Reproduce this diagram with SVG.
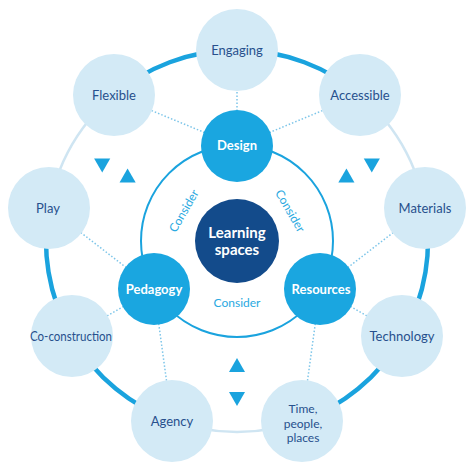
<svg xmlns="http://www.w3.org/2000/svg" xmlns:xlink="http://www.w3.org/1999/xlink" width="474" height="474" viewBox="0 0 474 474">
<style>
.outer{fill:#d3eaf6}
.mid{fill:#1aa6e0}
.core{fill:#134b8b}
.ol{font-family:Lato,"Open Sans","Liberation Sans",sans-serif;font-size:13px;fill:#27508d;text-anchor:middle}
.ts{font-size:12px}
.bl{font-family:Lato,"Open Sans","Liberation Sans",sans-serif;font-size:13px;font-weight:700;fill:#ffffff;text-anchor:middle}
.cl{font-family:Lato,"Open Sans","Liberation Sans",sans-serif;font-size:15px;font-weight:700;fill:#ffffff;text-anchor:middle}
.cs{font-family:Lato,"Open Sans","Liberation Sans",sans-serif;font-size:12px;fill:#2aa9e1;text-anchor:middle}
.dot{stroke:#7cc5e9;stroke-width:1.5;stroke-dasharray:1.5 2;fill:none}
.tri{fill:#1aa3de}
</style>
<defs>
<g id="tris">
<polygon class="tri" points="237,358 245,372 229,372"/>
<polygon class="tri" points="229,392 245,392 237,406"/>
</g>
</defs>
<g id="connectors">
<circle cx="237" cy="241" r="191" fill="none" stroke="#cfe5f2" stroke-width="2.5"/>
<path d="M114.2,94.7 A191,191 0 0 1 359.8,94.7" fill="none" stroke="#1aa3de" stroke-width="4.5"/>
<path d="M425.1,207.8 A191,191 0 0 1 302.3,420.5" fill="none" stroke="#1aa3de" stroke-width="4.5"/>
<path d="M171.7,420.5 A191,191 0 0 1 48.9,207.8" fill="none" stroke="#1aa3de" stroke-width="4.5"/>
<circle cx="237" cy="241" r="96" fill="none" stroke="#1aa3de" stroke-width="2"/>
<line class="dot" x1="237" y1="146" x2="237" y2="50"/>
<line class="dot" x1="237" y1="146" x2="114" y2="95"/>
<line class="dot" x1="237" y1="146" x2="360" y2="95"/>
<line class="dot" x1="154" y1="289" x2="49" y2="208"/>
<line class="dot" x1="154" y1="289" x2="72" y2="336"/>
<line class="dot" x1="154" y1="289" x2="172" y2="421"/>
<line class="dot" x1="320" y1="289" x2="425" y2="208"/>
<line class="dot" x1="320" y1="289" x2="402" y2="336"/>
<line class="dot" x1="320" y1="289" x2="302" y2="421"/>
<use xlink:href="#tris"/>
<use xlink:href="#tris" transform="rotate(120 237 241)"/>
<use xlink:href="#tris" transform="rotate(240 237 241)"/>
</g>
<g id="engaging"><circle class="outer" cx="237" cy="50" r="41"/><text class="ol" x="237" y="55">Engaging</text></g>
<g id="accessible"><circle class="outer" cx="360" cy="95" r="41"/><text class="ol" x="360" y="100">Accessible</text></g>
<g id="materials"><circle class="outer" cx="425" cy="208" r="41"/><text class="ol" x="425" y="213">Materials</text></g>
<g id="technology"><circle class="outer" cx="402" cy="336" r="41"/><text class="ol" x="402" y="341">Technology</text></g>
<g id="time"><circle class="outer" cx="302" cy="421" r="41"/><text class="ol ts" x="303" y="413">Time,</text><text class="ol ts" x="303" y="427.5">people,</text><text class="ol ts" x="303" y="442">places</text></g>
<g id="agency"><circle class="outer" cx="172" cy="421" r="41"/><text class="ol" x="172" y="426">Agency</text></g>
<g id="coconstruction"><circle class="outer" cx="72" cy="336" r="41"/><text class="ol" x="71" y="341" textLength="82" lengthAdjust="spacingAndGlyphs">Co-construction</text></g>
<g id="play"><circle class="outer" cx="49" cy="208" r="41"/><text class="ol" x="48" y="213">Play</text></g>
<g id="flexible"><circle class="outer" cx="114" cy="95" r="41"/><text class="ol" x="114" y="100">Flexible</text></g>
<g id="design"><circle class="mid" cx="237" cy="146" r="36"/><text class="bl" x="237" y="150">Design</text></g>
<g id="pedagogy"><circle class="mid" cx="154" cy="289" r="36"/><text class="bl" x="154" y="294">Pedagogy</text></g>
<g id="resources"><circle class="mid" cx="320" cy="289" r="36"/><text class="bl" x="321" y="294">Resources</text></g>
<g id="learning"><circle class="core" cx="237" cy="241" r="42"/><text class="cl" x="237" y="238">Learning</text><text class="cl" x="237" y="255">spaces</text></g>
<g id="consider-labels">
<text class="cs" transform="translate(184,211) rotate(-60)" y="4">Consider</text>
<text class="cs" transform="translate(290,211) rotate(60)" y="4">Consider</text>
<text class="cs" x="237" y="307">Consider</text>
</g>
</svg>
